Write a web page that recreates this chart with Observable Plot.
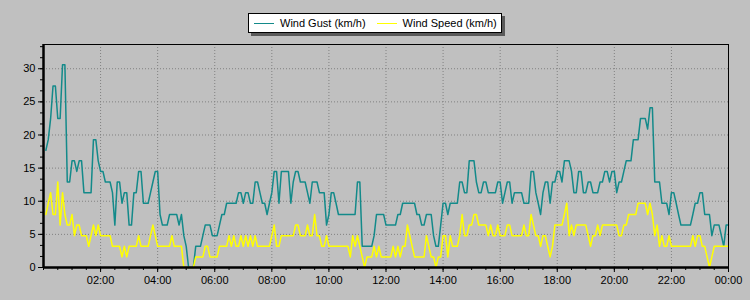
<!DOCTYPE html>
<html>
<head>
<meta charset="utf-8">
<script src="https://cdn.jsdelivr.net/npm/d3@7"></script>
<script src="https://cdn.jsdelivr.net/npm/@observablehq/plot@0.6"></script>
<style>
  html, body { margin: 0; padding: 0; background: #c0c0c0; }
  #wrap { position: relative; width: 750px; height: 300px; overflow: hidden; }
  #legend {
    position: absolute; left: 248px; top: 13px; width: 252px; height: 18px;
    background: #ffffff; border: 1px solid #000; box-shadow: 3px 3px 0 #5a5a5a;
    font-family: "Liberation Sans", Arial, sans-serif; font-size: 11px; color: #000;
    display: flex; align-items: center; white-space: nowrap;
  }
  .sw { display: inline-block; width: 20px; height: 0; border-top: 1.5px solid; margin: 0 6px 0 5px; }
</style>
</head>
<body>
<div id="wrap"><div id="legend"></div></div>
<script>
// Series labels
const seriesNames = ["Wind Gust (km/h)", "Wind Speed (km/h)"];
const seriesColors = ["#138a8a", "#ffff00"];

// 5-minute samples, 00:05 .. 24:00 (km/h)
const gust = [
17.7,19.3,22.5,27.4,27.4,22.5,22.5,30.6,30.6,12.9,
12.9,16.1,16.1,14.5,16.1,16.1,11.3,11.3,11.3,11.3,
19.3,19.3,16.1,14.5,14.5,12.9,12.9,12.9,11.3,6.4,
12.9,12.9,9.7,11.3,11.3,6.4,6.4,11.3,11.3,14.5,
14.5,9.7,9.7,9.7,11.3,12.9,14.5,14.5,8.0,6.4,
6.4,6.4,8.0,8.0,8.0,8.0,6.4,8.0,4.8,3.2,
0,0,0,3.2,3.2,3.2,4.8,6.4,6.4,6.4,
4.8,4.8,4.8,6.4,8.0,8.0,9.7,9.7,9.7,9.7,
9.7,11.3,11.3,9.7,11.3,11.3,9.7,9.7,12.9,12.9,
11.3,9.7,9.7,8.0,9.7,11.3,14.5,14.5,9.7,14.5,
14.5,14.5,14.5,9.7,12.9,14.5,14.5,12.9,12.9,12.9,
11.3,9.7,12.9,12.9,12.9,11.3,11.3,11.3,6.4,8.0,
11.3,11.3,9.7,8.0,8.0,8.0,8.0,8.0,8.0,8.0,
8.0,12.9,12.9,3.2,3.2,3.2,3.2,3.2,4.8,8.0,
8.0,8.0,8.0,6.4,6.4,6.4,6.4,6.4,8.0,8.0,
9.7,9.7,9.7,9.7,9.7,9.7,8.0,8.0,6.4,6.4,
8.0,8.0,8.0,4.8,3.2,3.2,6.4,9.7,9.7,8.0,
9.7,9.7,9.7,9.7,12.9,12.9,11.3,11.3,16.1,16.1,
16.1,12.9,11.3,11.3,12.9,12.9,11.3,11.3,11.3,11.3,
12.9,12.9,9.7,11.3,12.9,12.9,9.7,11.3,11.3,11.3,
11.3,9.7,9.7,9.7,14.5,14.5,11.3,9.7,8.0,11.3,
12.9,12.9,9.7,12.9,12.9,14.5,14.5,12.9,16.1,16.1,
16.1,14.5,11.3,11.3,14.5,14.5,11.3,11.3,12.9,12.9,
11.3,11.3,11.3,12.9,12.9,14.5,14.5,12.9,14.5,14.5,
11.3,12.9,12.9,14.5,16.1,16.1,16.1,19.3,19.3,19.3,
22.5,22.5,22.5,20.9,24.1,24.1,12.9,12.9,12.9,9.7,
9.7,9.7,8.0,11.3,11.3,9.7,8.0,6.4,6.4,6.4,
6.4,6.4,8.0,9.7,9.7,11.3,11.3,8.0,8.0,8.0,
4.8,6.4,6.4,6.4,4.8,3.2,6.4,6.4
];
const speed = [
8.0,9.7,11.3,8.0,8.0,12.9,6.4,11.3,8.0,6.4,
6.4,8.0,4.8,6.4,6.4,4.8,4.8,4.8,3.2,4.8,
6.4,4.8,6.4,4.8,4.8,4.8,4.8,4.8,3.2,3.2,
3.2,3.2,1.6,3.2,1.6,3.2,3.2,3.2,3.2,4.8,
3.2,3.2,3.2,3.2,4.8,6.4,4.8,3.2,3.2,3.2,
3.2,3.2,3.2,4.8,3.2,3.2,3.2,3.2,0,0,
0,0,0,1.6,1.6,1.6,1.6,3.2,3.2,1.6,
1.6,1.6,1.6,3.2,3.2,3.2,3.2,4.8,3.2,4.8,
3.2,3.2,4.8,3.2,4.8,3.2,4.8,3.2,4.8,3.2,
3.2,3.2,3.2,3.2,3.2,4.8,6.4,3.2,3.2,4.8,
4.8,4.8,4.8,4.8,4.8,6.4,6.4,4.8,4.8,4.8,
6.4,4.8,4.8,8.0,4.8,4.8,3.2,3.2,4.8,3.2,
3.2,3.2,3.2,3.2,3.2,3.2,3.2,3.2,1.6,4.8,
3.2,4.8,3.2,1.6,0,1.6,1.6,1.6,3.2,1.6,
3.2,1.6,1.6,1.6,1.6,1.6,3.2,1.6,3.2,1.6,
3.2,3.2,6.4,4.8,3.2,1.6,1.6,1.6,1.6,1.6,
4.8,3.2,1.6,1.6,0,1.6,1.6,4.8,4.8,1.6,
4.8,3.2,3.2,3.2,4.8,8.0,4.8,4.8,6.4,6.4,
8.0,8.0,6.4,6.4,6.4,6.4,4.8,6.4,4.8,4.8,
6.4,4.8,4.8,4.8,6.4,6.4,4.8,4.8,4.8,4.8,
4.8,6.4,4.8,4.8,8.0,6.4,4.8,4.8,3.2,4.8,
4.8,3.2,1.6,3.2,6.4,6.4,6.4,6.4,8.0,9.7,
4.8,6.4,4.8,6.4,6.4,6.4,6.4,6.4,4.8,3.2,
4.8,4.8,6.4,4.8,6.4,6.4,6.4,6.4,6.4,6.4,
6.4,4.8,4.8,6.4,6.4,8.0,8.0,8.0,8.0,9.7,
9.7,9.7,9.7,8.0,9.7,8.0,4.8,6.4,3.2,4.8,
3.2,3.2,4.8,3.2,3.2,3.2,3.2,3.2,3.2,3.2,
3.2,3.2,4.8,3.2,4.8,4.8,3.2,3.2,1.6,0,
1.6,3.2,3.2,3.2,3.2,3.2,3.2,3.2
];

// Axis ticks
const yTicks = [0, 5, 10, 15, 20, 25, 30];
const xTickHours = [2, 4, 6, 8, 10, 12, 14, 16, 18, 20, 22, 24];

const day0 = Date.UTC(2021, 0, 1);
const start = new Date(day0);
const end = new Date(day0 + 24 * 3600e3);
const data = gust.map((g, i) => ({
  time: new Date(day0 + (i + 1) * 5 * 60e3),
  gust: g,
  speed: speed[i]
}));
const xTicks = xTickHours.map(h => new Date(day0 + h * 3600e3));
const xMinor = d3.utcMinute.every(30).range(start, new Date(+end + 1));
const yMinor = d3.range(0, 33.6, 5 / 3);
const fmt = d3.utcFormat("%H:%M");

const chart = Plot.plot({
  width: 750,
  height: 300,
  marginTop: 44,
  marginBottom: 33,
  marginLeft: 43,
  marginRight: 22,
  style: {
    background: "#c0c0c0",
    fontFamily: "'Liberation Sans', Arial, sans-serif",
    fontSize: "11px",
    color: "#000"
  },
  x: { type: "utc", domain: [start, end] },
  y: { domain: [0, 33.66] },
  marks: [
    Plot.gridX(xTicks.slice(0, -1), { stroke: "#808080", strokeOpacity: 1, strokeDasharray: "1,2" }),
    Plot.gridY(yTicks.slice(1), { stroke: "#808080", strokeOpacity: 1, strokeDasharray: "1,2" }),
    Plot.line(data, { x: "time", y: "gust", stroke: seriesColors[0], strokeWidth: 1.5 }),
    Plot.line(data, { x: "time", y: "speed", stroke: seriesColors[1], strokeWidth: 1.5 }),
    Plot.frame({ stroke: "#000" }),
    Plot.axisX({ ticks: xMinor, tickSize: 3, tickFormat: () => "", label: null, stroke: "#000" }),
    Plot.axisX({ ticks: xTicks, tickSize: 5, tickPadding: 4, tickFormat: fmt, label: null, stroke: "#000", fill: "#000" }),
    Plot.axisY({ ticks: yMinor, tickSize: 3, tickFormat: () => "", label: null, stroke: "#000" }),
    Plot.axisY({ ticks: yTicks, tickSize: 5, tickPadding: 3, label: null, stroke: "#000", fill: "#000" }),
    Plot.ruleX([start], { stroke: "#000", strokeWidth: 2.5 }),
    Plot.ruleY([0], { stroke: "#000", strokeWidth: 2.5 })
  ]
});
document.getElementById("wrap").appendChild(chart);

const legend = document.getElementById("legend");
seriesNames.forEach((name, i) => {
  const sw = document.createElement("span");
  sw.className = "sw";
  sw.style.borderTopColor = seriesColors[i];
  if (i > 0) sw.style.marginLeft = "11px";
  legend.appendChild(sw);
  const t = document.createElement("span");
  t.textContent = name;
  legend.appendChild(t);
});
</script>
</body>
</html>
